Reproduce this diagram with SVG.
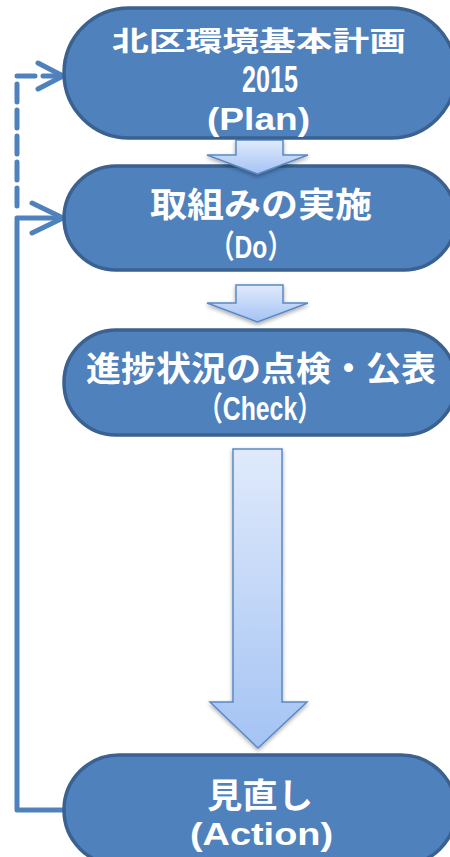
<svg xmlns="http://www.w3.org/2000/svg" width="450" height="857" viewBox="0 0 450 857">
<defs>
<linearGradient id="ag" x1="0" y1="0" x2="0" y2="1">
<stop offset="0" stop-color="#e0eafb"/>
<stop offset="1" stop-color="#a4c3f4"/>
</linearGradient>
<filter id="sh" x="-20%" y="-20%" width="140%" height="140%">
<feGaussianBlur in="SourceAlpha" stdDeviation="2"/>
<feOffset dx="0" dy="2" result="b"/>
<feComponentTransfer><feFuncA type="linear" slope="0.35"/></feComponentTransfer>
<feMerge><feMergeNode/><feMergeNode in="SourceGraphic"/></feMerge>
</filter>
</defs>
<style>
.node{fill:#4f81bd;stroke:#3a6190;stroke-width:3.5}
.arrow{fill:url(#ag);stroke:#5a89c6;stroke-width:1.5;stroke-linejoin:miter}
.conn{fill:none;stroke:#4f81bd;stroke-width:5;stroke-linecap:round;stroke-linejoin:round}
.jp{font-family:"Noto Sans CJK JP","Noto Sans",sans-serif;font-weight:bold;fill:#fff;text-anchor:start}
.lat{font-family:"Liberation Sans","Noto Sans CJK JP",sans-serif;font-weight:bold;fill:#fff;text-anchor:start}
</style>
<g id="connectors">
<path class="conn" d="M63,218 H17 V810 H64"/>
<path class="conn" d="M32,203 L63,218 L32,233"/>
<path class="conn" d="M17,206 V76 H58" stroke-dasharray="18,8" stroke-linecap="butt"/>
<path class="conn" d="M38,63 L63,76 L38,89"/>
</g>
<g id="node-do">
<rect class="node" x="64" y="166" width="392" height="104" rx="52"/>
<text class="jp" x="150" y="217" font-size="34" textLength="222" lengthAdjust="spacingAndGlyphs">取組みの実施</text>
<text class="lat" x="210" y="258" font-size="32" textLength="82" lengthAdjust="spacingAndGlyphs">（Do）</text>
</g>
<g id="arrow-plan-do" filter="url(#sh)">
<path class="arrow" d="M236,140 H283 V155 H308 L257.5,174 L207,155 H236 Z"/>
</g>
<g id="node-plan">
<rect class="node" x="64" y="8" width="392" height="130" rx="65"/>
<text class="jp" x="112" y="51" font-size="27" textLength="294" lengthAdjust="spacingAndGlyphs">北区環境基本計画</text>
<text class="lat" x="242" y="92" font-size="36" textLength="56" lengthAdjust="spacingAndGlyphs">2015</text>
<text class="lat" x="207" y="130" font-size="32" textLength="103" lengthAdjust="spacingAndGlyphs">(Plan)</text>
</g>
<g id="arrow-do-check" filter="url(#sh)">
<path class="arrow" d="M236,285 H283 V303 H308 L257.5,322 L207,303 H236 Z"/>
</g>
<g id="node-check">
<rect class="node" x="64" y="330" width="392" height="105" rx="52"/>
<text class="jp" x="86" y="381" font-size="34" textLength="350" lengthAdjust="spacingAndGlyphs">進捗状況の点検・公表</text>
<text class="lat" x="198" y="420" font-size="33" textLength="124" lengthAdjust="spacingAndGlyphs">（Check）</text>
</g>
<g id="arrow-check-action" filter="url(#sh)">
<path class="arrow" d="M233,449 H282 V702 H307 L258,748 L210,702 H233 Z"/>
</g>
<g id="node-action">
<rect class="node" x="64" y="755" width="392" height="110" rx="55"/>
<text class="jp" x="207" y="808" font-size="34" textLength="106" lengthAdjust="spacingAndGlyphs">見直し</text>
<text class="lat" x="190" y="845" font-size="31" textLength="143" lengthAdjust="spacingAndGlyphs">(Action)</text>
</g>
</svg>
